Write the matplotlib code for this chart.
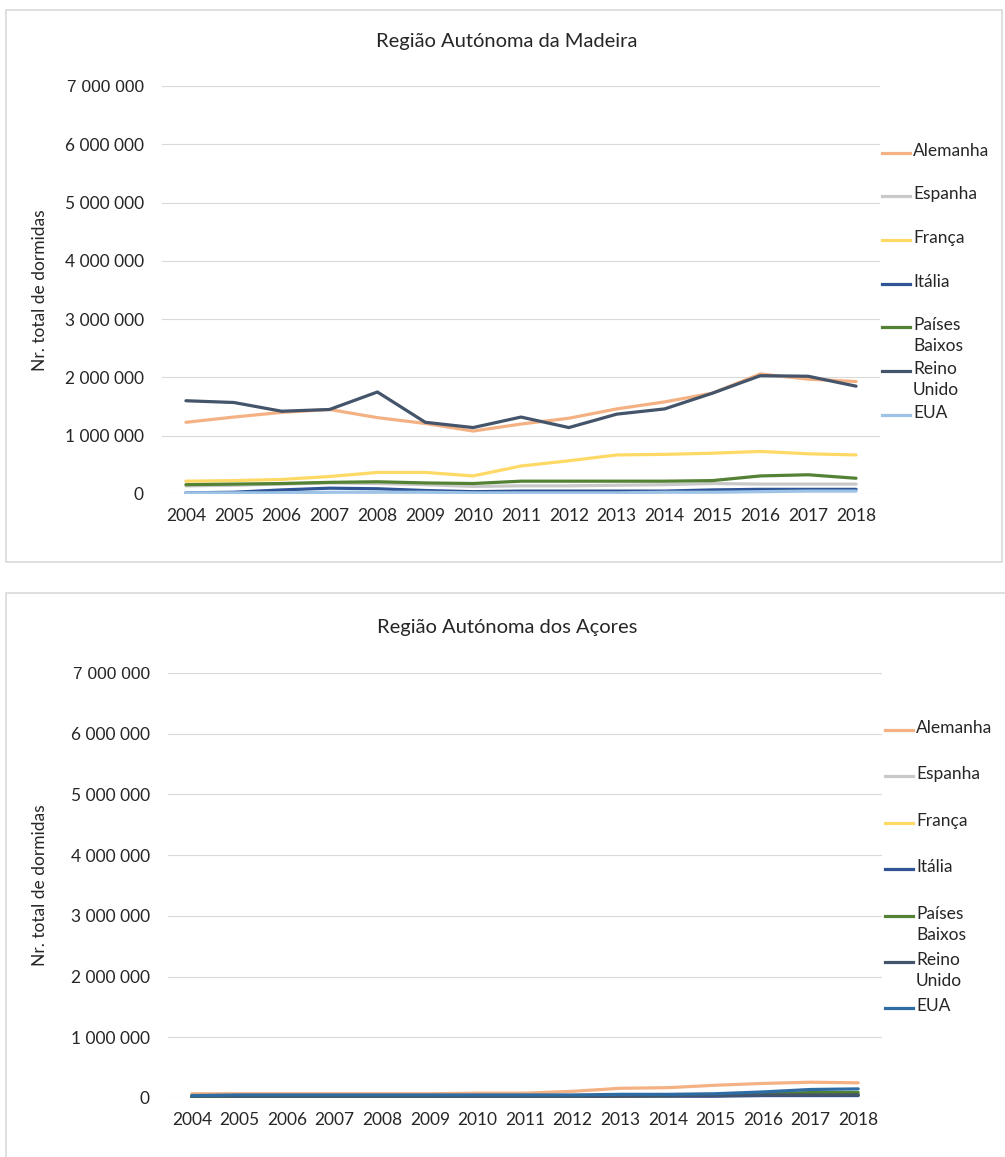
import matplotlib.pyplot as plt
from matplotlib.patches import Rectangle
from matplotlib.lines import Line2D
from matplotlib.ticker import FuncFormatter

# Years (categories)
years = ['2004', '2005', '2006', '2007', '2008', '2009', '2010', '2011',
         '2012', '2013', '2014', '2015', '2016', '2017', '2018']
countries = ['Alemanha', 'Espanha', 'França', 'Itália', 'Países\nBaixos', 'Reino\nUnido', 'EUA']

# Madeira - total overnight stays (millions)
mad_alemanha = [1.23, 1.32, 1.40, 1.45, 1.31, 1.21, 1.08, 1.20, 1.30, 1.46, 1.58, 1.73, 2.06, 1.97, 1.93]
mad_espanha = [0.14, 0.15, 0.17, 0.19, 0.18, 0.16, 0.13, 0.14, 0.14, 0.15, 0.16, 0.18, 0.17, 0.17, 0.17]
mad_franca = [0.22, 0.23, 0.25, 0.30, 0.37, 0.37, 0.31, 0.48, 0.57, 0.67, 0.68, 0.70, 0.73, 0.69, 0.67]
mad_italia = [0.02, 0.03, 0.07, 0.10, 0.09, 0.06, 0.04, 0.05, 0.05, 0.05, 0.05, 0.07, 0.08, 0.08, 0.08]
mad_paises = [0.16, 0.17, 0.18, 0.20, 0.21, 0.19, 0.18, 0.22, 0.22, 0.22, 0.22, 0.23, 0.31, 0.33, 0.27]
mad_reino = [1.60, 1.57, 1.42, 1.45, 1.75, 1.23, 1.14, 1.32, 1.14, 1.37, 1.46, 1.73, 2.03, 2.02, 1.85]
mad_eua = [0.02, 0.02, 0.02, 0.03, 0.03, 0.03, 0.02, 0.02, 0.02, 0.02, 0.03, 0.03, 0.04, 0.05, 0.05]

# Açores - total overnight stays (millions)
aco_alemanha = [0.07, 0.07, 0.07, 0.07, 0.07, 0.07, 0.08, 0.08, 0.11, 0.16, 0.17, 0.21, 0.24, 0.26, 0.25]
aco_espanha = [0.03, 0.03, 0.03, 0.03, 0.03, 0.03, 0.03, 0.03, 0.03, 0.03, 0.03, 0.04, 0.05, 0.05, 0.05]
aco_franca = [0.02, 0.02, 0.02, 0.02, 0.02, 0.03, 0.03, 0.03, 0.03, 0.04, 0.04, 0.05, 0.06, 0.07, 0.07]
aco_italia = [0.02, 0.02, 0.02, 0.02, 0.02, 0.02, 0.02, 0.02, 0.02, 0.03, 0.03, 0.03, 0.04, 0.04, 0.04]
aco_paises = [0.01, 0.02, 0.02, 0.02, 0.02, 0.02, 0.02, 0.02, 0.03, 0.04, 0.04, 0.05, 0.07, 0.09, 0.09]
aco_reino = [0.03, 0.03, 0.03, 0.03, 0.03, 0.03, 0.03, 0.03, 0.03, 0.03, 0.04, 0.04, 0.05, 0.05, 0.05]
aco_eua = [0.04, 0.05, 0.05, 0.05, 0.05, 0.05, 0.05, 0.05, 0.05, 0.06, 0.06, 0.07, 0.10, 0.14, 0.15]

mad_colors = ['#F4B183', '#C9C9C9', '#FFD966', '#2F5597', '#548235', '#44546A', '#9DC3E6']
aco_colors = ['#F4B183', '#C9C9C9', '#FFD966', '#2F5597', '#548235', '#44546A', '#2E6CA4']

W, H = 1005, 1157
fig = plt.figure(figsize=(W / 100, H / 100), dpi=100)

def px(x, y):
    return x / W, 1 - y / H

# panel frames
for (x0, y0, x1, y1) in [(6, 10, 1002, 562), (6, 593, 1010, 1165)]:
    fig.patches.append(Rectangle(px(x0, y1), (x1 - x0) / W, (y1 - y0) / H,
                                 transform=fig.transFigure, fill=False,
                                 edgecolor='#D9D9D9', lw=1.2))

fmt = FuncFormatter(lambda v, p: '{:,.0f}'.format(v).replace(',', ' '))

def draw_panel(rect, title, series, colors, title_y, ylab_y, leg_x, leg_ys):
    ax = fig.add_axes(rect)
    xs = range(len(years))
    for vals, c in zip(series, colors):
        ax.plot(xs, [v * 1e6 for v in vals], color=c, lw=2.3, solid_capstyle='round')
    ax.set_xlim(-0.5, len(years) - 0.5)
    ax.set_ylim(0, 7e6)
    ax.set_yticks([i * 1e6 for i in range(8)])
    ax.yaxis.set_major_formatter(fmt)
    ax.set_xticks(list(xs))
    ax.set_xticklabels(years, fontfamily='Lato', fontsize=12.5, color='#262626')
    ylabels = ax.get_yticklabels()
    for t in ylabels:
        t.set_fontfamily('Lato')
        t.set_fontsize(12.5)
        t.set_color('#262626')
    ylabels[-1].set_fontfamily('Liberation Sans')
    ax.tick_params(length=0, pad=13)
    ax.tick_params(axis='x', pad=10)
    ax.grid(axis='y', color='#D9D9D9', lw=0.8)
    ax.set_axisbelow(True)
    for s in ax.spines.values():
        s.set_visible(False)
    lx, ly = px(40, ylab_y)
    fig.text(lx, ly, 'Nr. total de dormidas', rotation=90, ha='center', va='center',
             fontfamily='Lato', fontsize=12.5, color='#262626')
    fx, fy = px(507, title_y)
    fig.text(fx, fy, title, ha='center', va='center', fontfamily='Lato',
             fontsize=14.5, color='#262626')
    # legend
    for name, c, ly in zip(countries, colors, leg_ys):
        x0, y0 = px(leg_x, ly)
        x1, _ = px(leg_x + 28, ly)
        fig.add_artist(Line2D([x0, x1], [y0, y0], transform=fig.transFigure, color=c, lw=2.3))
        tx, _ = px(leg_x + 31, ly)
        fig.text(tx, y0 + 10 / H, name, ha='left', va='top', fontfamily='Lato', fontsize=12.5,
                 color='#262626', linespacing=1.35)
    return ax

draw_panel([162 / W, 1 - 494 / H, 718 / W, 408 / H], 'Região Autónoma da Madeira',
           [mad_alemanha, mad_espanha, mad_franca, mad_italia, mad_paises, mad_reino, mad_eua],
           mad_colors, 42, 290, 882, [153, 196, 240, 284, 327, 371, 415])
draw_panel([168 / W, 1 - 1098 / H, 714 / W, 425 / H], 'Região Autónoma dos Açores',
           [aco_alemanha, aco_espanha, aco_franca, aco_italia, aco_paises, aco_reino, aco_eua],
           aco_colors, 627, 885, 885, [730, 776, 823, 869, 916, 962, 1008])

fig.savefig('out.png', dpi=100)
